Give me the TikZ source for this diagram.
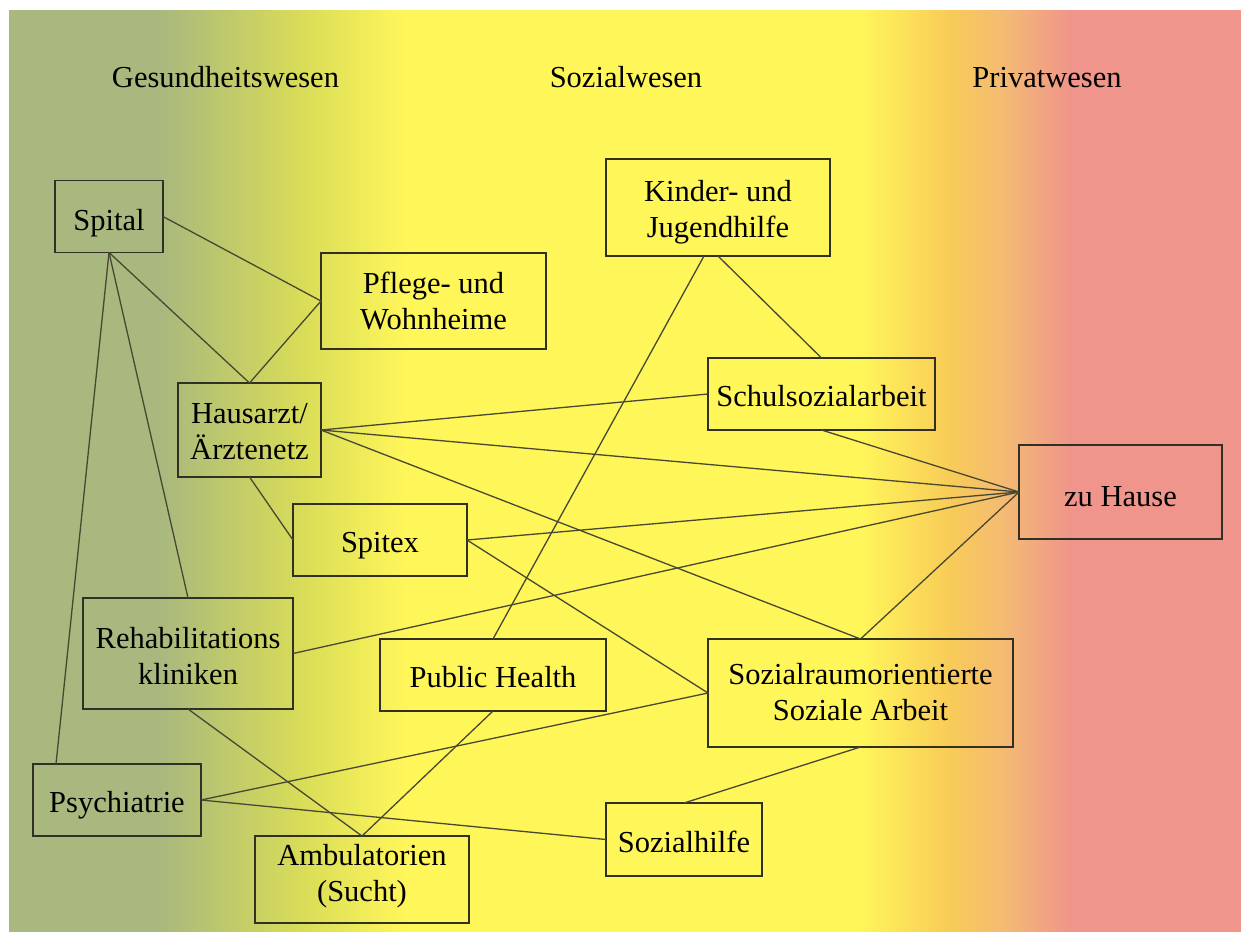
\documentclass[tikz,border=0pt]{standalone}
\usepackage{fontspec}
\setmainfont{Liberation Serif}
\usetikzlibrary{calc}

\definecolor{bgGreen}{RGB}{169,184,126}
\definecolor{bgLime}{RGB}{216,220,88}
\definecolor{bgYellow}{RGB}{255,246,90}
\definecolor{bgOrange}{RGB}{248,203,88}
\definecolor{bgPeach}{RGB}{244,186,116}
\definecolor{bgPink}{RGB}{239,149,139}
\definecolor{boxline}{RGB}{48,48,38}
\definecolor{linkcol}{RGB}{72,72,50}

\begin{document}
\begin{tikzpicture}[x=1pt,y=-1pt,
  box/.style={draw=boxline, line width=1.6pt, inner sep=0pt, outer sep=0pt,
    align=center, font=\fontsize{30.5}{36}\selectfont},
  oneline/.style={box, text height=25pt, text depth=0pt},
  twoline/.style={box, text height=58pt, text depth=0pt},
  link/.style={draw=linkcol, line width=1.3pt},
  head/.style={anchor=base, font=\fontsize{30.5}{36}\selectfont}]

% page and banded background
\fill[white] (0,0) rectangle (1242,932);
\useasboundingbox (0,0) rectangle (1242,932);
\fill[bgGreen] (9,10) rectangle (160.5,931.5);
\shade[left color=bgGreen, right color=bgLime] (160,10) rectangle (300.5,931.5);
\shade[left color=bgLime, right color=bgYellow] (300,10) rectangle (405.5,931.5);
\fill[bgYellow] (405,10) rectangle (860.5,931.5);
\shade[left color=bgYellow, right color=bgOrange] (860,10) rectangle (950.5,931.5);
\shade[left color=bgOrange, right color=bgPeach] (950,10) rectangle (1005.5,931.5);
\shade[left color=bgPeach, right color=bgPink] (1005,10) rectangle (1070.5,931.5);
\fill[bgPink] (1070,10) rectangle (1241,931.5);

% column headings
\node[head] (hGes) at (225.5,87) {Gesundheitswesen};
\node[head] (hSoz) at (626,87) {Sozialwesen};
\node[head] (hPriv) at (1047,87) {Privatwesen};

% institutions
\node[oneline, text height=27pt, minimum width=108pt, minimum height=72pt] (spital) at (109,216.5) {Spital};
\node[twoline, text height=56pt, minimum width=225pt, minimum height=96pt] (pflege) at (433.5,301) {Pflege- und\\Wohnheime};
\node[twoline, minimum width=143pt, minimum height=94pt] (hausarzt) at (249.5,430) {Hausarzt/\\Ärztenetz};
\node[oneline, minimum width=174pt, minimum height=72pt] (spitex) at (380,540) {Spitex};
\node[twoline, text height=61pt, minimum width=210pt, minimum height=111pt] (rehab) at (188,653.5) {Rehabilitations\\kliniken};
\node[oneline, minimum width=168pt, minimum height=72pt] (psych) at (117,800) {Psychiatrie};
\node[twoline, text height=44pt, minimum width=214pt, minimum height=87pt] (amb) at (362,879.5) {Ambulatorien\\(Sucht)};
\node[oneline, minimum width=226pt, minimum height=72pt] (public) at (493,675) {Public Health};
\node[twoline, text height=60pt, minimum width=224pt, minimum height=97pt] (kinder) at (718,207.5) {Kinder- und\\Jugendhilfe};
\node[oneline, minimum width=227pt, minimum height=72pt] (schul) at (821.5,394) {Schulsozialarbeit};
\node[oneline, text height=28pt, minimum width=203pt, minimum height=94pt] (zuhause) at (1120.5,492) {zu Hause};
\node[twoline, text height=55pt, minimum width=305pt, minimum height=108pt] (sozialraum) at (860.5,693) {Sozialraumorientierte\\Soziale Arbeit};
\node[oneline, minimum width=156pt, minimum height=73pt] (sozialhilfe) at (684,839.5) {Sozialhilfe};

% attachment points off the side centres
\coordinate (psychTop) at ($(psych.north west)!0.137!(psych.north east)$);
\coordinate (kinderFoot) at ($(kinder.south west)!0.4375!(kinder.south east)$);

% links
\draw[link] (spital.east) -- (pflege.west);
\draw[link] (spital.south) -- (hausarzt.north);
\draw[link] (pflege.west) -- (hausarzt.north);
\draw[link] (spital.south) -- (rehab.north);
\draw[link] (spital.south) -- (psychTop);
\draw[link] (hausarzt.east) -- (schul.west);
\draw[link] (hausarzt.east) -- (zuhause.west);
\draw[link] (hausarzt.east) -- (sozialraum.north);
\draw[link] (hausarzt.south) -- (spitex.west);
\draw[link] (spitex.east) -- (zuhause.west);
\draw[link] (spitex.east) -- (sozialraum.west);
\draw[link] (rehab.east) -- (zuhause.west);
\draw[link] (rehab.south) -- (amb.north);
\draw[link] (amb.north) -- (public.south);
\draw[link] (psych.east) -- (sozialraum.west);
\draw[link] (psych.east) -- (sozialhilfe.west);
\draw[link] (sozialhilfe.north) -- (sozialraum.south);
\draw[link] (public.north) -- (kinderFoot);
\draw[link] (kinder.south) -- (schul.north);
\draw[link] (schul.south) -- (zuhause.west);
\draw[link] (sozialraum.north) -- (zuhause.west);
\end{tikzpicture}
\end{document}
